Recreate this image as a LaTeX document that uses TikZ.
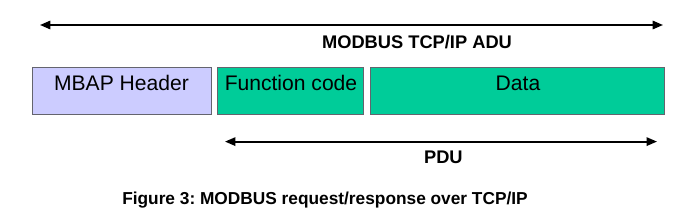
\documentclass[tikz,border=0pt]{standalone}
\usepackage{fontspec}
\setmainfont{Liberation Sans}
\usetikzlibrary{arrows.meta,positioning}
\frenchspacing

\definecolor{mbapfill}{RGB}{204,204,255}
\definecolor{pdufill}{RGB}{0,204,153}
\definecolor{boxline}{RGB}{100,100,110}

\begin{document}
\begin{tikzpicture}[
    node distance=0.15cm,
    % node styles
    field/.style      = {draw=boxline, line width=0.7pt, minimum height=1.175cm,
                          inner sep=0pt, text height=0.35cm, text depth=0.33cm,
                          font=\fontsize{15}{18}\selectfont},
    mbap/.style       = {field, fill=mbapfill},
    pdubox/.style     = {field, fill=pdufill},
    % labels
    span/.style       = {font=\fontsize{13}{15}\selectfont\bfseries, inner sep=1pt},
    caption/.style    = {font=\fontsize{12.3}{14}\selectfont\bfseries, inner sep=1pt},
    % edges
    extent/.style     = {{Triangle[length=2.6mm, width=2.1mm]}-{Triangle[length=2.6mm, width=2.1mm]},
                          line width=1.3pt}
  ]
\useasboundingbox (0,0) rectangle (17.45,-5.425);

% ============================================================
% Frame fields
% ============================================================
\node[mbap, minimum width=4.475cm] (header) at (3.0375,-2.2625) {MBAP Header};
\node[pdubox, minimum width=3.65cm, right=of header] (fcode) {Function code};
\node[pdubox, minimum width=7.35cm, right=of fcode] (data) {Data};

% ============================================================
% Extents
% ============================================================
\coordinate (aduL) at (1.0,-0.625);
\coordinate (aduR) at (16.575,-0.625);
\coordinate (pduL) at (5.625,-3.54);
\coordinate (pduR) at (16.425,-3.54);

\draw[extent] (aduL) -- (aduR);
\draw[extent] (pduL) -- (pduR);

\node[span] (adu) at (10.425,-1.05) {MODBUS TCP/IP ADU};
\node[span] (pdu) at (11.085,-3.94) {PDU};

% Caption
\node[caption] (cap) at (8.125,-5.0) {Figure 3: MODBUS request/response over TCP/IP};

\end{tikzpicture}
\end{document}
